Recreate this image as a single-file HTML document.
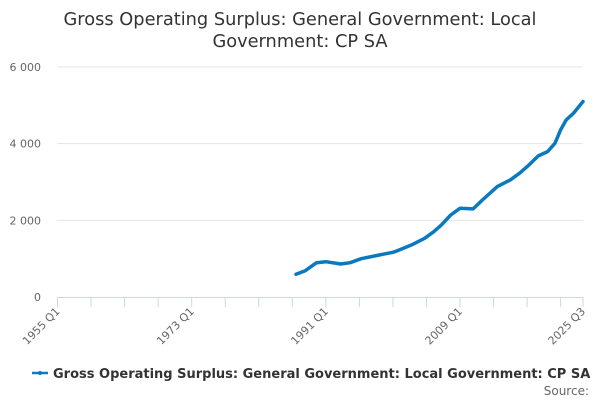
<!DOCTYPE html>
<html><head><meta charset="utf-8"><style>
body{margin:0;background:#fff;font-family:"Liberation Sans","DejaVu Sans",sans-serif}
svg text{font-family:"DejaVu Sans","Liberation Sans",sans-serif}
</style></head><body>
<svg id="c" width="600" height="400">
<text x="300" y="25" text-anchor="middle" font-size="17.8" fill="#333"><tspan x="300">Gross Operating Surplus: General Government: Local</tspan><tspan x="300" dy="22">Government: CP SA</tspan></text>
<g id="grid"></g><g id="xaxis"></g><g id="series"></g>
<g>
<line x1="32" y1="373" x2="48" y2="373" stroke="#0a7abf" stroke-width="2.5"/>
<circle cx="40" cy="373" r="2" fill="#0a7abf"/>
<text x="53" y="378" font-size="13" font-weight="bold" fill="#333">Gross Operating Surplus: General Government: Local Government: CP SA</text>
</g>
<text x="589" y="395" text-anchor="end" font-size="12" fill="#666">Source:</text>
</svg>
<script>
const times=[1987.0,1988.25,1989.75,1991.0,1993.0,1994.25,1995.75,1997.75,2000.0,2000.5,2002.5,2004.25,2005.5,2006.5,2007.75,2009.0,2010.75,2012.0,2014.0,2015.75,2017.0,2018.25,2019.5,2020.75,2021.75,2022.5,2023.25,2024.25,2025.5];
const values=[593,687,896,922,862,896,1000,1080,1167,1200,1358,1530,1705,1880,2140,2315,2298,2530,2880,3055,3230,3446,3680,3794,4013,4360,4620,4800,5100];
const yTicks=[0,2000,4000,6000];
const yTickLabels=["0","2 000","4 000","6 000"];
const xLabels=["1955 Q1","1973 Q1","1991 Q1","2009 Q1","2025 Q3"];
const xLabelTimes=[1955,1973,1991,2009,2025.5];
const ns="http://www.w3.org/2000/svg";
const X=t=>57.5+(t-1955)*(583-57.5)/70.5;
const Y=v=>297-v*(297-67)/6000;
function mk(tag,attrs,parent){const e=document.createElementNS(ns,tag);for(const k in attrs)e.setAttribute(k,attrs[k]);parent.appendChild(e);return e;}
const grid=document.getElementById('grid');
yTicks.forEach((v,i)=>{
 if(v>0){const l=mk('line',{x1:57,x2:583,y1:Y(v),y2:Y(v),stroke:'#e6e6e6'},grid);
 
 }
 const t=mk('text',{x:41,y:Y(v)+4,'text-anchor':'end','font-size':11,fill:'#666'},grid);
 t.textContent=yTickLabels[i];
 
 
});
const xa=document.getElementById('xaxis');
const ax=mk('line',{x1:57.5,x2:583,y1:297.5,y2:297.5,stroke:'#ccd6eb'},xa);


for(let t=1955;t<=2026;t+=4.5){const l=mk('line',{x1:X(t),x2:X(t),y1:297,y2:307,stroke:'#ccd6eb'},xa);
 
 }
const lt=mk('line',{x1:583,x2:583,y1:297,y2:307,stroke:'#ccd6eb'},xa);


xLabels.forEach((s,i)=>{const x=X(xLabelTimes[i])+3,y=312;
 const t=mk('text',{x:x,y:y,'text-anchor':'end','font-size':11,fill:'#666',transform:`rotate(-45 ${x} ${y})`},xa);
 t.textContent=s;
 
 });
const sg=document.getElementById('series');
const p=mk('path',{d:times.map((t,i)=>(i?'L':'M')+X(t).toFixed(1)+' '+Y(values[i]).toFixed(1)).join(' '),fill:'none',stroke:'#0a7abf','stroke-width':3.5,'stroke-linejoin':'round','stroke-linecap':'round'},sg);


</script>
</body></html>
